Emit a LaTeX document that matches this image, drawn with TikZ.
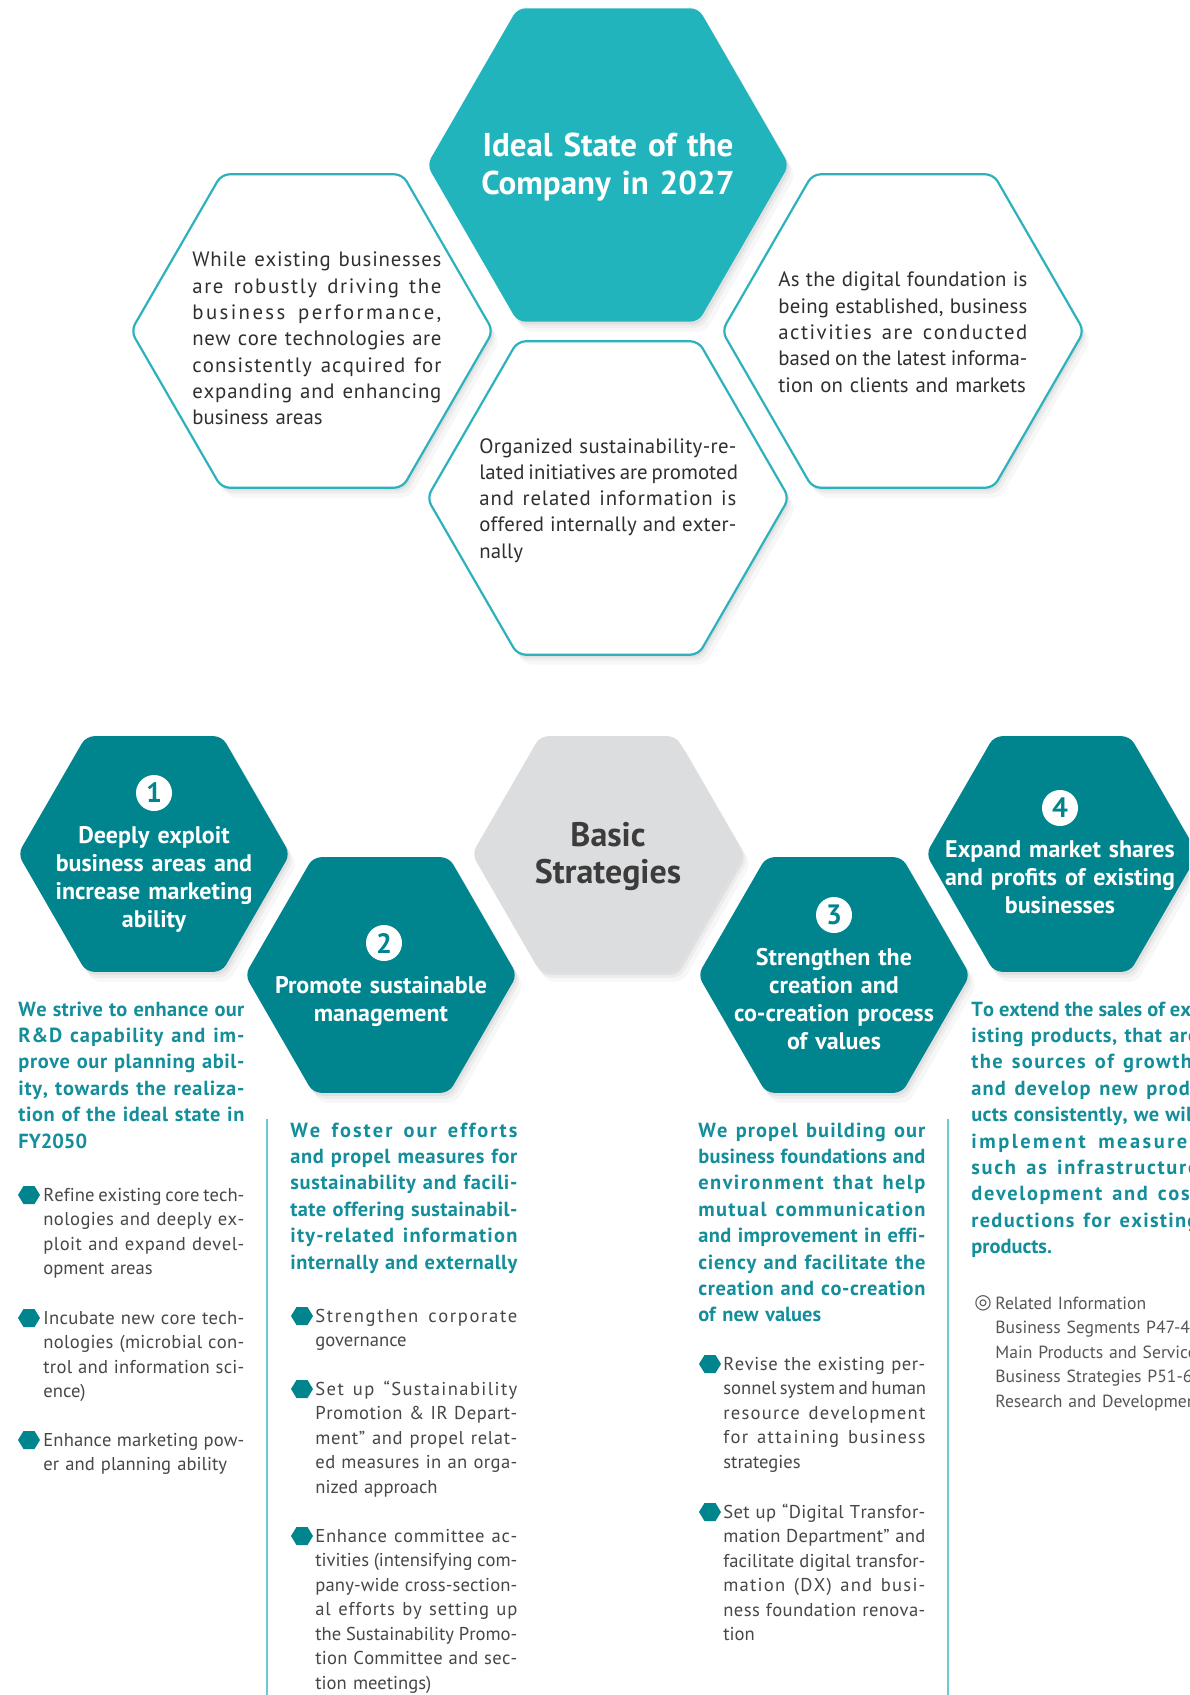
\documentclass[tikz,border=0pt]{standalone}
\usepackage{fontspec}
\setmainfont{PT Sans}
\newfontfamily\symfont{DejaVu Sans}
\definecolor{idealc}{HTML}{22B4BD}
\definecolor{outc}{HTML}{2DB2BD}
\definecolor{stratc}{HTML}{00858F}
\definecolor{basicc}{HTML}{DCDDDF}
\definecolor{basict}{HTML}{3C3C3C}
\definecolor{headc}{HTML}{148E9A}
\definecolor{bodyc}{HTML}{474747}
\definecolor{topc}{HTML}{2F2F2F}
\definecolor{linec}{HTML}{6BC9D2}
\definecolor{relc}{HTML}{555555}
\newlength\lw
% ---- justified line with letter spacing spread ----
\newcommand\SPend{SPEND-MARK}
\newcommand\JLstop{JLSTOP-MARK}
\newcommand\SPfirst[1]{#1\SPloop}
\def\SPloop#1{\ifx#1\SPend\else\hskip 0pt plus 1fil\relax#1\expandafter\SPloop\fi}
\newcommand\SPword[1]{\SPfirst#1\SPend}
\def\JLwords#1 #2\JLstop{\SPword{#1}\ifx\relax#2\relax\else\hskip\fontdimen2\font plus 3fil minus 0.08em\relax\JLwords#2\JLstop\fi}
\newcommand\JL[1]{\hbox to\lw{\JLwords#1 \JLstop}}
\newcommand\EL[1]{\hbox to\lw{#1\hfil}}
% style, cx, cy, R (half width), H (half height)
\newcommand\hexshape[5]{\path[#1] ({#2+#4},{#3}) -- ({#2+0.5*#4},{#3-#5}) -- ({#2-0.5*#4},{#3-#5}) -- ({#2-#4},{#3}) -- ({#2-0.5*#4},{#3+#5}) -- ({#2+0.5*#4},{#3+#5}) -- cycle;}
\newcommand\hexshadow[4]{%
  \hexshape{fill=black,opacity=0.03,rounded corners=4pt}{#1+7}{#2+10}{#3}{#4}
  \hexshape{fill=black,opacity=0.04,rounded corners=4pt}{#1+4}{#2+6}{#3}{#4}
  \hexshape{fill=black,opacity=0.05,rounded corners=4pt}{#1+2}{#2+3}{#3}{#4}}
\tikzset{
  bigfill/.style={fill=idealc,rounded corners=4pt},
  outhex/.style={fill=white,draw=outc,line width=1.1pt,rounded corners=4pt},
  strathex/.style={fill=stratc,rounded corners=4pt},
  basichex/.style={fill=basicc,rounded corners=4pt},
  bullethex/.style={fill=stratc},
  blockw/.style={text width=#1,
    execute at begin node={\setlength\lw{#1}}},
  toptext/.style={anchor=base west,inner sep=0pt,text=topc,
    font=\fontsize{10.4pt}{13.15pt}\selectfont},
  headtext/.style={anchor=base west,inner sep=0pt,text=headc,
    font=\bfseries\fontsize{10.2pt}{13.2pt}\selectfont},
  bodytext/.style={anchor=base west,inner sep=0pt,text=bodyc,
    font=\fontsize{9.3pt}{12.25pt}\selectfont},
  hextitle/.style={anchor=base,inner sep=0pt,text width=130pt,align=center,text=white,
    font=\bfseries\fontsize{12pt}{14pt}\selectfont},
  numcircle/.style={circle,fill=white,inner sep=0pt,minimum size=18pt,text=stratc,
    font=\bfseries\fontsize{14pt}{14pt}\selectfont},
  sepline/.style={draw=linec,line width=1.2pt},
}
\begin{document}
\begin{tikzpicture}[x=0.5pt,y=-0.5pt]
\useasboundingbox (0,0) rectangle (1189,1695);
\fill[white] (0,0) rectangle (1189,1695);
\clip (0,0) rectangle (1189,1695);

% ---------- top hexagons ----------
\hexshadow{608}{165}{181}{156.7}
\hexshadow{312}{331}{181}{156.7}
\hexshadow{903}{331}{181}{156.7}
\hexshadow{608}{498}{181}{156.7}
\hexshape{bigfill}{608}{165}{181}{156.7}
\hexshape{outhex}{312}{331}{181}{156.7}
\hexshape{outhex}{903}{331}{181}{156.7}
\hexshape{outhex}{608}{498}{181}{156.7}

\node[anchor=base,inner sep=0pt,text width=160pt,align=center,text=white,
  font=\bfseries\fontsize{16.5pt}{19pt}\selectfont] (ideal) at (608,157)
  {Ideal State of the\\Company in 2027};

\node[toptext,blockw=124.5pt] (topleft) at (192,267) {%
\JL{While existing businesses}
\JL{are robustly driving the}
\JL{business performance,}
\JL{new core technologies are}
\JL{consistently acquired for}
\JL{expanding and enhancing}
\EL{business areas}};

\node[toptext,blockw=124.5pt] (topright) at (778,287) {%
\JL{As the digital foundation is}
\JL{being established, business}
\JL{activities are conducted}
\JL{based on the latest informa-}
\EL{tion on clients and markets}};

\node[toptext,blockw=128.5pt] (topbottom) at (479,453) {%
\JL{Organized sustainability-re-}
\JL{lated initiatives are promoted}
\JL{and related information is}
\JL{offered internally and exter-}
\EL{nally}};

% ---------- strategy hexagons ----------
\hexshadow{154}{854}{136}{117.8}
\hexshadow{608}{854}{136}{117.8}
\hexshadow{1062}{854}{136}{117.8}
\hexshadow{381}{975}{136}{117.8}
\hexshadow{834}{975}{136}{117.8}
\hexshape{strathex}{154}{854}{136}{117.8}
\hexshape{basichex}{608}{854}{136}{117.8}
\hexshape{strathex}{1062}{854}{136}{117.8}
\hexshape{strathex}{381}{975}{136}{117.8}
\hexshape{strathex}{834}{975}{136}{117.8}

\node[anchor=base,inner sep=0pt,text width=130pt,align=center,text=basict,
  font=\bfseries\fontsize{17pt}{18.5pt}\selectfont] (basic) at (608,846)
  {Basic\\Strategies};

\node[numcircle] (n1) at (154,793) {1};
\node[numcircle] (n2) at (384,943) {2};
\node[numcircle] (n3) at (834,915) {3};
\node[numcircle] (n4) at (1060,808) {4};

\node[hextitle] (s1) at (154,843) {Deeply exploit\\business areas and\\increase marketing\\ability};
\node[hextitle] (s2) at (381,993) {Promote sustainable\\management};
\node[hextitle] (s3) at (834,965) {Strengthen the\\creation and\\co-creation process\\of values};
\node[hextitle] (s4) at (1060,857) {Expand market shares\\and profits of existing\\businesses};

% ---------- separators ----------
\draw[sepline] (267,1119) coordinate (sepAtop) -- (267,1695) coordinate (sepAbot);
\draw[sepline] (948,1119) coordinate (sepBtop) -- (948,1695) coordinate (sepBbot);

% ---------- column headings ----------
\node[headtext,blockw=113pt] (h1) at (18,1016) {%
\JL{We strive to enhance our}
\JL{R\&D capability and im-}
\JL{prove our planning abil-}
\JL{ity, towards the realiza-}
\JL{tion of the ideal state in}
\EL{FY2050}};

\node[headtext,blockw=113.5pt] (h2) at (290,1137) {%
\JL{We foster our efforts}
\JL{and propel measures for}
\JL{sustainability and facili-}
\JL{tate offering sustainabil-}
\JL{ity-related information}
\JL{internally and externally}};

\node[headtext,blockw=113.5pt] (h3) at (698,1137) {%
\JL{We propel building our}
\JL{business foundations and}
\JL{environment that help}
\JL{mutual communication}
\JL{and improvement in effi-}
\JL{ciency and facilitate the}
\JL{creation and co-creation}
\EL{of new values}};

\node[headtext,blockw=113.5pt] (h4) at (971,1016) {%
\JL{To extend the sales of ex-}
\JL{isting products, that are}
\JL{the sources of growth,}
\JL{and develop new prod-}
\JL{ucts consistently, we will}
\JL{implement measures}
\JL{such as infrastructure}
\JL{development and cost}
\JL{reductions for existing}
\EL{products.}};

% ---------- bullets ----------
\hexshape{bullethex}{29}{1195}{11}{9}
\hexshape{bullethex}{29}{1318}{11}{9}
\hexshape{bullethex}{29}{1440}{11}{9}
\hexshape{bullethex}{302}{1316}{11}{9}
\hexshape{bullethex}{302}{1389}{11}{9}
\hexshape{bullethex}{302}{1536}{11}{9}
\hexshape{bullethex}{710}{1364}{11}{9}
\hexshape{bullethex}{710}{1512}{11}{9}

\node[bodytext,blockw=100.5pt] (b11) at (43,1201) {%
\JL{Refine existing core tech-}
\JL{nologies and deeply ex-}
\JL{ploit and expand devel-}
\EL{opment areas}};
\node[bodytext,blockw=100.5pt] (b12) at (43,1324) {%
\JL{Incubate new core tech-}
\JL{nologies (microbial con-}
\JL{trol and information sci-}
\EL{ence)}};
\node[bodytext,blockw=100.5pt] (b13) at (43,1446) {%
\JL{Enhance marketing pow-}
\EL{er and planning ability}};

\node[bodytext,blockw=101pt] (b21) at (315,1322) {%
\JL{Strengthen corporate}
\EL{governance}};
\node[bodytext,blockw=101pt] (b22) at (315,1395) {%
\JL{Set up “Sustainability}
\JL{Promotion \& IR Depart-}
\JL{ment” and propel relat-}
\JL{ed measures in an orga-}
\EL{nized approach}};
\node[bodytext,blockw=101pt] (b23) at (315,1542) {%
\JL{Enhance committee ac-}
\JL{tivities (intensifying com-}
\JL{pany-wide cross-section-}
\JL{al efforts by setting up}
\JL{the Sustainability Promo-}
\JL{tion Committee and sec-}
\EL{tion meetings)}};

\node[bodytext,blockw=101pt] (b31) at (723,1370) {%
\JL{Revise the existing per-}
\JL{sonnel system and human}
\JL{resource development}
\JL{for attaining business}
\EL{strategies}};
\node[bodytext,blockw=101pt] (b32) at (723,1518) {%
\JL{Set up “Digital Transfor-}
\JL{mation Department” and}
\JL{facilitate digital transfor-}
\JL{mation (DX) and busi-}
\JL{ness foundation renova-}
\EL{tion}};

% ---------- related information ----------
\node[anchor=base,inner sep=0pt,text=relc,font=\symfont\fontsize{10pt}{10pt}\selectfont] (relmark) at (983,1308) {◎};
\node[anchor=base west,inner sep=0pt,text width=200pt,align=left,text=relc,
  font=\fontsize{8.8pt}{12.25pt}\selectfont] (rel) at (995,1309)
  {Related Information\\Business Segments P47-48\\Main Products and Services\\Business Strategies P51-60\\Research and Development};
\end{tikzpicture}
\end{document}
